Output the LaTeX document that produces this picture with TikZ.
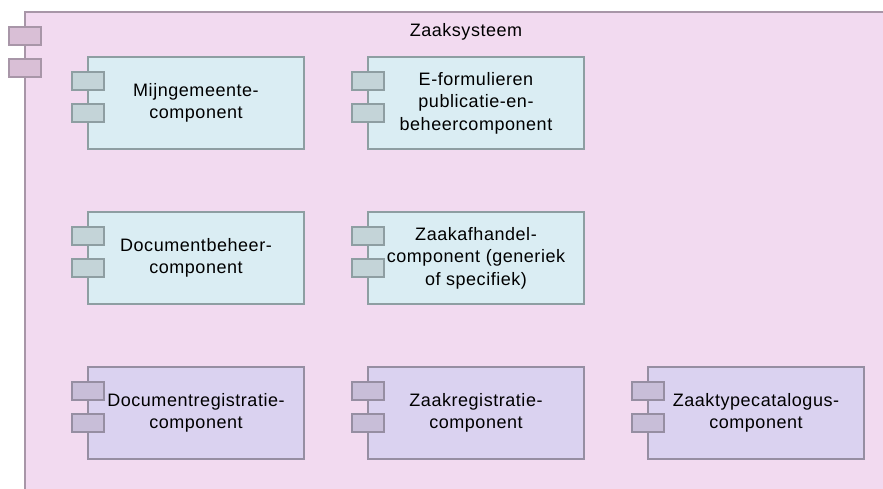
\documentclass[tikz,border=0pt]{standalone}
\usepackage{fontspec}
\setmainfont{Liberation Sans}[LetterSpace=3]
\begin{document}
\begin{tikzpicture}[x=1pt,y=-1pt,
  sysfill/.style={fill={rgb,255:red,242;green,218;blue,240}},
  sysline/.style={draw={rgb,255:red,168;green,150;blue,168},line width=1.3pt},
  sysport/.style={draw={rgb,255:red,168;green,150;blue,168},fill={rgb,255:red,217;green,191;blue,214},line width=1.3pt},
  bluecomp/.style={draw={rgb,255:red,142;green,158;blue,162},fill={rgb,255:red,218;green,237;blue,243},line width=1.3pt},
  blueport/.style={draw={rgb,255:red,142;green,158;blue,162},fill={rgb,255:red,196;green,212;blue,216},line width=1.3pt},
  purpcomp/.style={draw={rgb,255:red,150;green,142;blue,162},fill={rgb,255:red,218;green,210;blue,240},line width=1.3pt},
  purpport/.style={draw={rgb,255:red,150;green,142;blue,162},fill={rgb,255:red,200;green,190;blue,216},line width=1.3pt},
  label/.style={align=center,font=\fontsize{18}{22.5}\selectfont,text=black,inner sep=0pt}]
\useasboundingbox (0,0) rectangle (883,488);
% system frame, running past the right and bottom edges
\fill[sysfill] (25,12) rectangle (910,500);
\draw[sysline] (25,500) -- (25,12) -- (910,12);
\draw[sysport] (9,27) rectangle (41,45);
\draw[sysport] (9,59) rectangle (41,77);
\node[label] (title) at (466,32) {Zaaksysteem};
% component box: #1 name, #2 style prefix, #3 left x, #4 top y, #5 text
\newcommand{\compbox}[5]{%
  \draw[#2comp] (#3,#4) rectangle ++(216,92);
  \draw[#2port] (#3-16,#4+15) rectangle ++(32,18);
  \draw[#2port] (#3-16,#4+47) rectangle ++(32,18);
  \node[label] (#1) at (#3+108,#4+46) {#5};}
\compbox{mijn}{blue}{88}{57}{Mijngemeente-\\component}
\compbox{eform}{blue}{368}{57}{E-formulieren\\publicatie-en-\\beheercomponent}
\compbox{docbeh}{blue}{88}{212}{Documentbeheer-\\component}
\compbox{zaakafh}{blue}{368}{212}{Zaakafhandel-\\component (generiek\\of specifiek)}
\compbox{docreg}{purp}{88}{367}{Documentregistratie-\\component}
\compbox{zaakreg}{purp}{368}{367}{Zaakregistratie-\\component}
\compbox{ztc}{purp}{648}{367}{Zaaktypecatalogus-\\component}
\end{tikzpicture}
\end{document}
